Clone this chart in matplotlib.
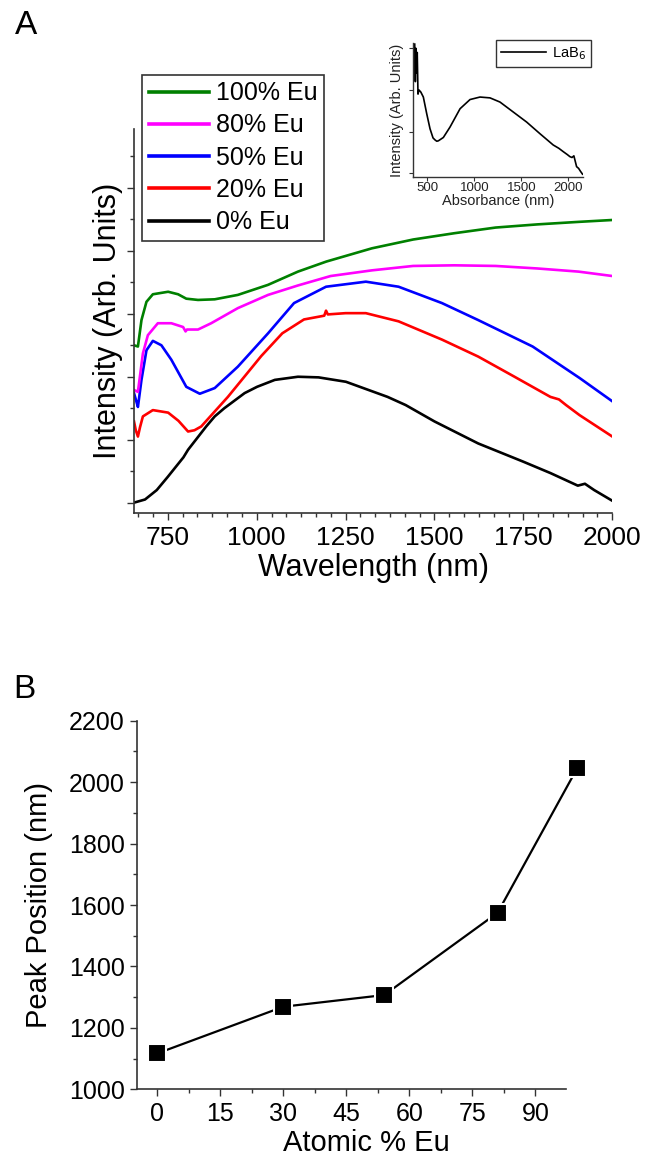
import matplotlib
matplotlib.use("Agg")
import matplotlib.pyplot as plt
from matplotlib.ticker import AutoMinorLocator, MultipleLocator, NullFormatter

plt.rcParams['font.family'] = ['Liberation Sans', 'DejaVu Sans']

# --- Panel A: emission spectra (arb. units) ---
wl_0 = [655, 686, 719, 750, 794, 807, 858, 882, 909, 966, 1001, 1051, 1116, 1174, 1251,
        1368, 1419, 1500, 1623, 1750, 1826, 1903, 1923, 1949, 2000]
int_0 = [0.0, 0.05, 0.2, 0.41, 0.72, 0.84, 1.21, 1.37, 1.50, 1.74, 1.84, 1.95, 2.0, 1.99, 1.92,
         1.68, 1.55, 1.29, 0.94, 0.65, 0.47, 0.27, 0.30, 0.20, 0.03]

wl_20 = [655, 660, 666, 672, 680, 708, 751, 780, 807, 825, 844, 919, 1013, 1072, 1133, 1190,
         1195, 1200, 1250, 1307, 1399, 1521, 1623, 1725, 1826, 1850, 1870, 1908, 2000]
int_20 = [1.29, 1.15, 1.05, 1.20, 1.37, 1.47, 1.43, 1.30, 1.13, 1.15, 1.21, 1.68, 2.33, 2.69, 2.91, 2.97,
          3.05, 2.99, 3.01, 3.01, 2.88, 2.59, 2.32, 2.00, 1.68, 1.64, 1.55, 1.39, 1.05]

wl_50 = [655, 662, 666, 676, 690, 708, 732, 760, 802, 840, 882, 947, 1032, 1105, 1195, 1307,
         1399, 1521, 1623, 1776, 1908, 2000]
int_50 = [1.74, 1.60, 1.52, 1.95, 2.42, 2.57, 2.50, 2.27, 1.84, 1.73, 1.82, 2.16, 2.69, 3.17, 3.43, 3.51,
          3.43, 3.17, 2.90, 2.48, 1.98, 1.61]

wl_80 = [655, 666, 680, 694, 722, 760, 793, 800, 804, 835, 872, 947, 1032, 1116, 1208, 1324,
         1440, 1556, 1672, 1789, 1905, 2000]
int_80 = [1.79, 1.76, 2.37, 2.66, 2.85, 2.85, 2.79, 2.72, 2.75, 2.75, 2.85, 3.09, 3.30, 3.45, 3.60, 3.69,
          3.76, 3.77, 3.76, 3.72, 3.67, 3.60]

wl_100 = [655, 666, 676, 690, 708, 751, 779, 802, 835, 882, 947, 1032, 1116, 1196, 1324, 1440,
          1556, 1672, 1789, 1905, 2000]
int_100 = [2.50, 2.48, 2.90, 3.19, 3.31, 3.35, 3.31, 3.24, 3.22, 3.23, 3.30, 3.46, 3.67, 3.83, 4.04, 4.18,
           4.28, 4.37, 4.42, 4.46, 4.49]

# inset: LaB6
wl_lab6 = [365, 372, 378, 385, 392, 400, 410, 430, 457, 493, 528, 560, 582, 600, 617, 670, 741, 848,
           954, 1060, 1167, 1273, 1415, 1557, 1699, 1840, 1900, 1947, 1990, 2018, 2040, 2060, 2089,
           2110, 2130, 2152]
int_lab6 = [3.1, 2.2, 3.0, 2.4, 2.9, 1.9, 2.0, 1.95, 1.83, 1.43, 1.07, 0.85, 0.80, 0.77, 0.78, 0.86, 1.11, 1.55,
            1.77, 1.83, 1.81, 1.71, 1.47, 1.23, 0.95, 0.68, 0.60, 0.52, 0.45, 0.40, 0.38, 0.42, 0.16,
            0.12, 0.05, -0.02]

# --- Panel B: peak position ---
eu_pct = [0, 30, 54, 81, 100]
peak_nm = [1117, 1269, 1307, 1575, 2047]

fig = plt.figure(figsize=(6.48, 11.6), dpi=100)

# ---------------- Panel A ----------------
ax = fig.add_axes([0.2068, 0.558, 0.7381, 0.3305])
series = [
    (wl_0, int_0, 'black', '0% Eu'),
    (wl_20, int_20, '#ff0000', '20% Eu'),
    (wl_50, int_50, '#0000ff', '50% Eu'),
    (wl_80, int_80, '#ff00ff', '80% Eu'),
    (wl_100, int_100, '#008000', '100% Eu'),
]
handles = []
for wl, it, col, lab in series:
    h, = ax.plot(wl, it, color=col, lw=1.9, label=lab)
    handles.append(h)

ax.set_xlim(655, 2000)
ax.set_ylim(-0.16, 5.93)
ax.xaxis.set_major_locator(MultipleLocator(250))
ax.xaxis.set_minor_locator(AutoMinorLocator(6))
ax.yaxis.set_major_locator(MultipleLocator(1))
ax.yaxis.set_minor_locator(AutoMinorLocator(2))
ax.yaxis.set_major_formatter(NullFormatter())
for s in ['top', 'right']:
    ax.spines[s].set_visible(False)
for s in ['left', 'bottom']:
    ax.spines[s].set_linewidth(1.2)
    ax.spines[s].set_color('#333333')
ax.tick_params(which='major', direction='out', length=5.3, width=1, colors='#333333',
               labelsize=19, labelcolor='black', pad=4)
ax.tick_params(which='minor', direction='out', length=2.9, width=1, colors='#333333')
ax.set_xlabel('Wavelength (nm)', fontsize=22, va='center')
ax.xaxis.set_label_coords(0.5, -0.144)
ax.set_ylabel('Intensity (Arb. Units)', fontsize=22, va='center')
ax.yaxis.set_label_coords(-0.054, 0.5)

leg = ax.legend(handles[::-1], [h.get_label() for h in handles[::-1]],
                loc='upper left', bbox_to_anchor=(142.3 / 648, 1 - 75 / 1160),
                bbox_transform=fig.transFigure, fontsize=18, handlelength=2.4,
                handletextpad=0.3, labelspacing=0.33, borderpad=0.25, borderaxespad=0,
                fancybox=False, framealpha=1)
leg.get_frame().set_edgecolor('#333333')
leg.get_frame().set_linewidth(1.2)
for l in leg.get_lines():
    l.set_linewidth(2.6)

fig.text(26.5 / 648, 1 - 26 / 1160, 'A', fontsize=24, ha='center', va='center')

# inset
axi = fig.add_axes([0.6378, 0.8477, 0.2623, 0.115])
axi.plot(wl_lab6, int_lab6, color='black', lw=1.2, label='LaB$_6$')
axi.set_xlim(350, 2160)
axi.set_ylim(-0.08, 3.12)
axi.xaxis.set_major_locator(MultipleLocator(500))
axi.yaxis.set_major_locator(MultipleLocator(1))
axi.yaxis.set_major_formatter(NullFormatter())
for s in ['top', 'right']:
    axi.spines[s].set_visible(False)
for s in ['left', 'bottom']:
    axi.spines[s].set_linewidth(1)
    axi.spines[s].set_color('#333333')
axi.tick_params(direction='out', length=3, width=0.8, colors='#333333',
                labelsize=9.5, labelcolor='#222222', pad=1)
axi.set_xlabel('Absorbance (nm)', fontsize=10.5, labelpad=0, color='#222222')
axi.set_ylabel('Intensity (Arb. Units)', fontsize=10.5, labelpad=3, color='#222222')
legi = axi.legend(loc='upper left', bbox_to_anchor=(495.7 / 648, 1 - 40 / 1160),
                  bbox_transform=fig.transFigure, fontsize=10.5, handlelength=3.1,
                  handletextpad=0.4, borderpad=0.35, borderaxespad=0, fancybox=False,
                  framealpha=1)
legi.get_frame().set_edgecolor('#333333')

# ---------------- Panel B ----------------
bx = fig.add_axes([0.211, 0.0609, 0.662, 0.3178])
bx.plot(eu_pct, peak_nm, color='black', lw=1.6, marker='s', ms=12.5, mfc='black',
        mec='white', mew=1.5, clip_on=False, zorder=3)
bx.set_xlim(-4.9, 97.2)
bx.set_ylim(1000, 2200)
bx.xaxis.set_major_locator(MultipleLocator(15))
bx.xaxis.set_minor_locator(AutoMinorLocator(2))
bx.yaxis.set_major_locator(MultipleLocator(200))
bx.yaxis.set_minor_locator(AutoMinorLocator(2))
for s in ['top', 'right']:
    bx.spines[s].set_visible(False)
for s in ['left', 'bottom']:
    bx.spines[s].set_linewidth(1.2)
    bx.spines[s].set_color('#333333')
bx.tick_params(which='major', direction='out', length=4.8, width=1, colors='#333333',
               labelsize=18, labelcolor='black', pad=4)
bx.tick_params(which='minor', direction='out', length=2.9, width=1, colors='#333333')
bx.set_xlabel('Atomic % Eu', fontsize=21, va='center')
bx.xaxis.set_label_coords(0.535, -0.146)
bx.set_ylabel('Peak Position (nm)', fontsize=21, va='center')
bx.yaxis.set_label_coords(-0.228, 0.5)

fig.text(24 / 648, 1 - 690 / 1160, 'B', fontsize=24, ha='center', va='center')

fig.savefig('out.png', dpi=100)
